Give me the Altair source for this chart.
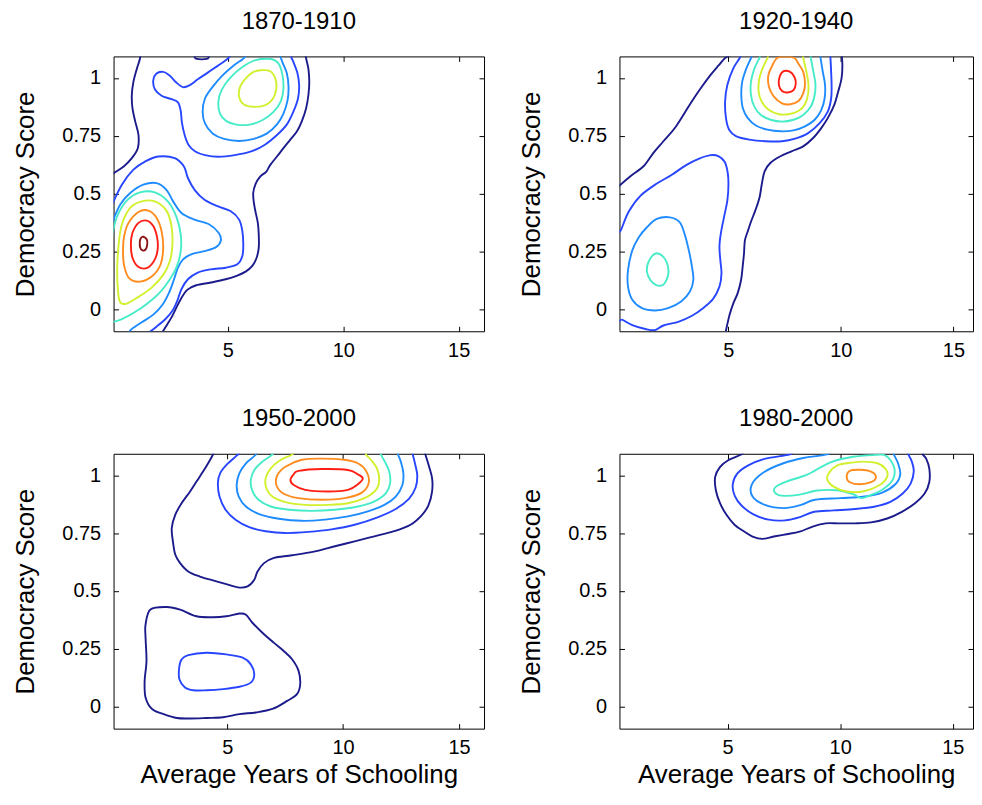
import altair as alt
import pandas as pd

# ---------------- axis ranges and ticks ----------------
Y_DOMAIN = [-0.096, 1.093]
X_DOMAINS = [[0.05, 16.1], [0.17, 15.87], [0.10, 16.08], [0.20, 15.90]]
X_TICKS = [5, 10, 15]
Y_TICKS = [0, 0.25, 0.5, 0.75, 1]
TITLES = ["1870-1910", "1920-1940", "1950-2000", "1980-2000"]
X_TITLE = "Average Years of Schooling"
Y_TITLE = "Democracy Score"

# ---------------- panel 1 : 1870-1910 (contour paths) ----------------
p1_navy_left_x = [1.20, 1.20, 1.06, 0.91, 0.84, 0.87, 0.99, 1.13, 1.10, 0.84, 0.49, 0.13, -0.09]
p1_navy_left_y = [1.12, 1.086, 1.040, 0.983, 0.925, 0.868, 0.811, 0.753, 0.696, 0.653, 0.617, 0.593, 0.578]
p1_navy_right_x = [8.35, 8.39, 8.49, 8.53, 8.49, 8.39, 8.20, 7.99, 7.70, 7.41, 7.13, 6.84, 6.67, 6.41, 6.20, 6.10, 6.13,
                   6.21, 6.30, 6.34, 6.34, 6.24, 6.06, 5.77, 5.41, 4.91, 4.27, 3.63, 3.24, 2.96, 2.74, 2.56, 2.34, 2.13]
p1_navy_right_y = [1.12, 1.086, 1.040, 0.983, 0.925, 0.868, 0.811, 0.768, 0.732, 0.696, 0.660, 0.624, 0.595, 0.574, 0.541,
                   0.502, 0.459, 0.416, 0.373, 0.323, 0.265, 0.220, 0.187, 0.162, 0.145, 0.129, 0.115, 0.103, 0.083, 0.043,
                   0.0, -0.036, -0.072, -0.105]
p1_navy_top_x = [3.60, 3.66, 4.08, 4.14]
p1_navy_top_y = [1.095, 1.082, 1.082, 1.095]
p1_blue_top_x = [5.2, 5.10, 4.91, 4.56, 4.13, 3.70, 3.34, 3.06, 2.77, 2.49, 2.20, 1.91, 1.77, 1.84, 2.13, 2.56, 2.84, 2.96,
                 3.01, 3.13, 3.30, 3.59, 4.01, 4.59, 5.30, 6.01, 6.59, 7.13, 7.56, 7.84, 8.04, 8.09, 8.01, 7.84, 7.73, 7.70]
p1_blue_top_y = [1.12, 1.095, 1.076, 1.052, 1.023, 0.994, 0.968, 0.960, 0.980, 1.009, 1.026, 1.019, 0.990, 0.951, 0.923,
                 0.908, 0.894, 0.857, 0.808, 0.753, 0.710, 0.682, 0.666, 0.659, 0.666, 0.682, 0.710, 0.753, 0.799, 0.854,
                 0.911, 0.968, 1.023, 1.069, 1.095, 1.12]
p1_dodger_top_x = [5.85, 5.77, 5.63, 5.27, 4.77, 4.34, 4.01, 3.91, 4.01, 4.34, 4.84, 5.49, 6.13, 6.70, 7.13, 7.41, 7.59,
                   7.63, 7.56, 7.39, 7.27, 7.22]
p1_dodger_top_y = [1.12, 1.095, 1.080, 1.055, 1.011, 0.961, 0.911, 0.854, 0.803, 0.760, 0.736, 0.727, 0.736, 0.760, 0.799,
                   0.846, 0.904, 0.961, 1.019, 1.062, 1.095, 1.12]
p1_cyan_top_x = [6.77, 6.20, 5.63, 5.10, 4.73, 4.59, 4.66, 4.94, 5.37, 5.94, 6.51, 6.99, 7.30, 7.41, 7.37, 7.24, 7.06]
p1_cyan_top_y = [1.083, 1.077, 1.047, 1.000, 0.947, 0.897, 0.846, 0.813, 0.798, 0.798, 0.818, 0.854, 0.900, 0.954, 1.011,
                 1.055, 1.075]
p1_ygreen_top_x = [6.41, 6.84, 7.06, 7.10, 6.96, 6.63, 6.13, 5.70, 5.49, 5.53, 5.77, 6.06]
p1_ygreen_top_y = [1.033, 1.029, 0.997, 0.954, 0.911, 0.882, 0.875, 0.885, 0.918, 0.961, 0.997, 1.023]
p1_blue_low_x = [-0.01, 0.41, 0.91, 1.41, 1.99, 2.70, 3.10, 3.27, 3.56, 3.99, 4.56, 5.13, 5.49, 5.63, 5.67, 5.63, 5.41,
                 4.91, 4.27, 3.70, 3.27, 2.99, 2.81, 2.60, 2.30, 1.91, 1.53]
p1_blue_low_y = [0.452, 0.538, 0.603, 0.638, 0.660, 0.653, 0.617, 0.567, 0.516, 0.473, 0.445, 0.423, 0.387, 0.337, 0.280,
                 0.230, 0.194, 0.179, 0.172, 0.158, 0.129, 0.086, 0.036, -0.007, -0.043, -0.076, -0.105]
p1_dodger_low_x = [-0.01, 0.34, 0.77, 1.34, 1.91, 2.34, 2.63, 2.99, 3.56, 4.20, 4.60, 4.70, 4.49, 3.99, 3.41, 3.06, 2.84,
                   2.67, 2.46, 2.17, 1.77, 1.27, 0.84, 0.67]
p1_dodger_low_y = [0.373, 0.452, 0.502, 0.538, 0.545, 0.516, 0.466, 0.416, 0.387, 0.366, 0.330, 0.297, 0.268, 0.251, 0.237,
                   0.215, 0.179, 0.129, 0.072, 0.019, -0.024, -0.057, -0.086, -0.108]
p1_cyan_low_x = [-0.01, 0.20, 0.63, 1.20, 1.84, 2.41, 2.77, 2.96, 2.96, 2.80, 2.49, 2.06, 1.49, 0.91, 0.41, -0.01]
p1_cyan_low_y = [0.316, 0.400, 0.470, 0.505, 0.505, 0.465, 0.400, 0.323, 0.251, 0.187, 0.129, 0.072, 0.022, -0.017, -0.043,
                 -0.057]
p1_ygreen_low_x = [0.41, 0.77, 1.27, 1.84, 2.34, 2.56, 2.60, 2.49, 2.20, 1.70, 1.13, 0.63, 0.34, 0.24, 0.21, 0.27]
p1_ygreen_low_y = [0.366, 0.438, 0.466, 0.466, 0.426, 0.359, 0.280, 0.208, 0.148, 0.093, 0.053, 0.024, 0.029, 0.079, 0.179,
                   0.280]
p1_orange_x = [0.70, 1.13, 1.56, 1.91, 2.13, 2.20, 2.09, 1.73, 1.20, 0.73, 0.51, 0.46, 0.51]
p1_orange_y = [0.373, 0.420, 0.426, 0.395, 0.337, 0.265, 0.194, 0.143, 0.119, 0.133, 0.187, 0.251, 0.316]
p1_red_x = [1.13, 1.49, 1.77, 1.94, 1.96, 1.84, 1.53, 1.13, 0.87, 0.80, 0.87]
p1_red_y = [0.373, 0.383, 0.359, 0.308, 0.258, 0.215, 0.179, 0.182, 0.222, 0.280, 0.330]
p1_darkred_x = [1.34, 1.49, 1.51, 1.44, 1.30, 1.20, 1.19, 1.24]
p1_darkred_y = [0.313, 0.301, 0.280, 0.258, 0.254, 0.268, 0.294, 0.308]

# ---------------- panel 2 : 1920-1940 ----------------
p2_navy_left_x = [0.00, 0.16, 0.67, 1.25, 1.68, 2.12, 2.68, 3.33, 3.77, 4.20, 4.57, 4.86, 5.07]
p2_navy_left_y = [0.516, 0.533, 0.576, 0.619, 0.676, 0.726, 0.790, 0.890, 0.954, 1.011, 1.054, 1.086, 1.097]
p2_navy_right_x = [10.03, 10.07, 10.03, 9.88, 9.71, 9.42, 9.13, 8.77, 8.33, 7.83, 7.32, 6.88, 6.62, 6.49, 6.39, 6.20, 6.03,
                   5.88, 5.74, 5.70, 5.64, 5.57, 5.42, 5.23, 5.06, 4.94, 4.88]
p2_navy_right_y = [1.11, 1.054, 0.997, 0.940, 0.883, 0.826, 0.783, 0.740, 0.704, 0.683, 0.661, 0.633, 0.597, 0.540, 0.483,
                   0.426, 0.383, 0.340, 0.297, 0.240, 0.183, 0.126, 0.069, 0.026, -0.024, -0.074, -0.103]
p2_blue_top_x = [5.60, 5.51, 5.22, 4.96, 4.86, 4.90, 5.04, 5.36, 5.94, 6.67, 7.39, 7.97, 8.55, 9.06, 9.42, 9.57, 9.59, 9.57,
                 9.54, 9.52]
p2_blue_top_y = [1.11, 1.086, 1.040, 0.969, 0.897, 0.826, 0.776, 0.747, 0.733, 0.726, 0.726, 0.737, 0.761, 0.804, 0.854,
                 0.911, 0.969, 1.026, 1.086, 1.11]
p2_cyan_top_x = [6.10, 6.01, 5.80, 5.62, 5.58, 5.65, 5.87, 6.23, 6.74, 7.32, 7.90, 8.41, 8.84, 9.13, 9.28, 9.30, 9.20, 9.10,
                 9.07]
p2_cyan_top_y = [1.11, 1.086, 1.040, 0.983, 0.926, 0.869, 0.826, 0.794, 0.776, 0.769, 0.773, 0.790, 0.819, 0.861, 0.911,
                 0.969, 1.026, 1.086, 1.11]
p2_green_top_x = [6.45, 6.38, 6.16, 6.01, 6.01, 6.16, 6.45, 6.88, 7.39, 7.90, 8.33, 8.67, 8.84, 8.87, 8.77, 8.67, 8.64]
p2_green_top_y = [1.11, 1.086, 1.040, 0.983, 0.926, 0.876, 0.840, 0.819, 0.811, 0.819, 0.840, 0.876, 0.926, 0.976, 1.033,
                  1.086, 1.11]
p2_orange_top_x = [6.80, 6.74, 6.55, 6.38, 6.35, 6.49, 6.81, 7.25, 7.68, 8.12, 8.41, 8.55, 8.55, 8.44, 8.33, 8.30]
p2_orange_top_y = [1.11, 1.086, 1.047, 0.997, 0.940, 0.897, 0.861, 0.843, 0.843, 0.857, 0.886, 0.933, 0.983, 1.040, 1.086,
                   1.11]
p2_red_x = [7.17, 6.96, 6.78, 6.81, 7.03, 7.39, 7.75, 8.12, 8.33, 8.41, 8.33, 8.12, 7.94, 7.55]
p2_red_y = [1.086, 1.054, 1.011, 0.961, 0.919, 0.890, 0.886, 0.900, 0.933, 0.976, 1.026, 1.061, 1.086, 1.092]
p2_darkred_x = [7.46, 7.75, 7.94, 8.00, 7.90, 7.65, 7.39, 7.25, 7.28]
p2_darkred_y = [1.029, 1.026, 1.004, 0.976, 0.947, 0.937, 0.943, 0.969, 1.004]
p2_blue_low_x = [0.01, 0.26, 0.59, 1.10, 1.83, 2.48, 3.13, 3.71, 4.22, 4.58, 4.84, 4.97, 5.01, 4.96, 4.81, 4.67, 4.61, 4.65,
                 4.70, 4.61, 4.32, 3.88, 3.39, 2.81, 2.12, 1.75, 1.32, 0.74, 0.30, 0.01]
p2_blue_low_y = [0.283, 0.347, 0.423, 0.490, 0.543, 0.580, 0.623, 0.651, 0.666, 0.661, 0.637, 0.594, 0.540, 0.469, 0.397,
                 0.326, 0.269, 0.211, 0.154, 0.097, 0.043, 0.004, -0.029, -0.054, -0.071, -0.091, -0.086, -0.069, -0.046,
                 -0.029]
p2_cyan_low_x = [1.39, 1.83, 2.41, 2.84, 3.06, 3.25, 3.39, 3.45, 3.30, 2.91, 2.33, 1.75, 1.17, 0.74, 0.55, 0.55, 0.74, 1.03]
p2_cyan_low_y = [0.354, 0.390, 0.397, 0.376, 0.326, 0.254, 0.183, 0.126, 0.076, 0.033, 0.004, -0.006, 0.004, 0.040, 0.097,
                 0.169, 0.254, 0.311]
p2_green_low_x = [1.75, 2.04, 2.26, 2.35, 2.26, 2.09, 1.80, 1.54, 1.39, 1.46]
p2_green_low_y = [0.240, 0.233, 0.204, 0.161, 0.126, 0.104, 0.104, 0.126, 0.161, 0.204]

# ---------------- panel 3 : 1950-2000 ----------------
p3_navy_up_x = [4.46, 4.39, 4.18, 3.96, 3.68, 3.40, 3.04, 2.76, 2.61, 2.66, 2.76, 2.97, 3.32, 3.82, 4.39, 4.96, 5.46, 5.88,
                6.17, 6.31, 6.59, 7.02, 7.80, 8.79, 9.65, 10.50, 11.35, 12.20, 12.91, 13.41, 13.69, 13.84, 13.84, 13.69,
                13.55, 13.51]
p3_navy_up_y = [1.108, 1.090, 1.052, 1.016, 0.973, 0.930, 0.880, 0.829, 0.772, 0.714, 0.657, 0.620, 0.584, 0.562, 0.545,
                0.529, 0.515, 0.519, 0.548, 0.584, 0.620, 0.643, 0.654, 0.671, 0.693, 0.714, 0.736, 0.758, 0.786, 0.829,
                0.872, 0.930, 0.987, 1.044, 1.090, 1.108]
p3_blue_up_x = [5.65, 5.55, 5.41, 4.99, 4.70, 4.60, 4.67, 4.93, 5.36, 5.95, 6.66, 7.51, 8.51, 9.50, 10.50, 11.49, 12.27,
                12.84, 13.13, 13.20, 13.10, 12.98, 12.93]
p3_blue_up_y = [1.12, 1.099, 1.085, 1.047, 1.009, 0.966, 0.908, 0.851, 0.808, 0.776, 0.758, 0.750, 0.755, 0.766, 0.786,
                0.818, 0.854, 0.898, 0.947, 0.999, 1.052, 1.099, 1.12]
p3_cyan_up_x = [6.35, 6.24, 5.81, 5.53, 5.41, 5.50, 5.81, 6.38, 7.23, 8.22, 9.22, 10.21, 11.07, 11.78, 12.27, 12.56, 12.60,
                12.49, 12.37, 12.30]
p3_cyan_up_y = [1.12, 1.090, 1.052, 1.009, 0.958, 0.908, 0.865, 0.832, 0.812, 0.803, 0.808, 0.822, 0.844, 0.872, 0.908,
                0.958, 1.009, 1.059, 1.090, 1.12]
p3_green_up_x = [7.10, 6.95, 6.52, 6.17, 6.02, 6.07, 6.35, 6.88, 7.66, 8.65, 9.65, 10.64, 11.35, 11.85, 12.03, 11.99, 11.80,
                 11.63, 11.55]
p3_green_up_y = [1.12, 1.090, 1.059, 1.023, 0.980, 0.937, 0.894, 0.865, 0.851, 0.846, 0.851, 0.865, 0.887, 0.923, 0.966,
                 1.016, 1.059, 1.090, 1.12]
p3_orange_up_x = [8.00, 7.80, 7.30, 6.88, 6.66, 6.69, 6.95, 7.51, 8.37, 9.36, 10.21, 10.92, 11.42, 11.56, 11.46, 11.21,
                  10.99, 10.90]
p3_orange_up_y = [1.12, 1.090, 1.066, 1.030, 0.987, 0.944, 0.908, 0.884, 0.872, 0.872, 0.879, 0.901, 0.937, 0.980, 1.030,
                  1.066, 1.090, 1.12]
p3_red_x = [8.22, 9.08, 10.07, 10.67, 11.01, 11.11, 10.81, 10.07, 9.08, 8.08, 7.44, 7.13, 7.16, 7.51]
p3_red_y = [1.067, 1.072, 1.067, 1.050, 1.016, 0.968, 0.925, 0.901, 0.894, 0.901, 0.920, 0.956, 0.999, 1.037]
p3_darkred_x = [8.08, 9.08, 10.21, 10.64, 10.85, 10.64, 10.21, 9.36, 8.37, 7.87, 7.73, 7.87]
p3_darkred_y = [1.019, 1.027, 1.023, 1.004, 0.987, 0.961, 0.937, 0.930, 0.937, 0.958, 0.980, 1.004]
p3_navy_low_x = [1.69, 2.40, 2.97, 3.68, 4.39, 4.96, 5.53, 5.81, 6.09, 6.52, 7.02, 7.44, 7.80, 8.08, 8.15, 8.01, 7.59, 6.95,
                 6.24, 5.53, 4.82, 4.11, 3.40, 2.83, 2.26, 1.76, 1.48, 1.44, 1.52, 1.48, 1.48]
p3_navy_low_y = [0.419, 0.430, 0.419, 0.390, 0.386, 0.390, 0.402, 0.397, 0.362, 0.319, 0.275, 0.240, 0.204, 0.154, 0.096,
                 0.053, 0.024, -0.011, -0.026, -0.033, -0.047, -0.050, -0.052, -0.050, -0.033, -0.011, 0.039, 0.110, 0.197,
                 0.297, 0.354]
p3_blue_low_x = [3.32, 4.11, 4.96, 5.67, 6.02, 6.17, 6.02, 5.53, 4.82, 4.11, 3.54, 3.18, 2.94, 2.93, 3.04]
p3_blue_low_y = [0.222, 0.232, 0.225, 0.211, 0.182, 0.139, 0.103, 0.085, 0.075, 0.070, 0.070, 0.082, 0.118, 0.168, 0.204]

# ---------------- panel 4 : 1980-2000 ----------------
p4_navy_x = [5.80, 5.61, 5.03, 4.67, 4.45, 4.48, 4.67, 4.96, 5.32, 5.75, 6.11, 6.54, 7.05, 7.62, 8.20, 8.78, 9.35, 9.93,
             10.65, 11.37, 12.09, 12.74, 13.31, 13.75, 13.96, 13.96, 13.82, 13.67, 13.62]
p4_navy_y = [1.11, 1.090, 1.065, 1.036, 0.993, 0.935, 0.878, 0.828, 0.785, 0.756, 0.735, 0.725, 0.735, 0.745, 0.756, 0.778,
             0.792, 0.792, 0.792, 0.796, 0.813, 0.842, 0.878, 0.921, 0.971, 1.029, 1.072, 1.090, 1.11]
p4_blue_x = [7.90, 7.77, 6.69, 5.92, 5.43, 5.23, 5.32, 5.63, 6.15, 6.83, 7.55, 8.27, 8.85, 9.71, 10.65, 11.51, 12.23, 12.78,
             13.13, 13.27, 13.18, 13.03, 12.98]
p4_blue_y = [1.11, 1.090, 1.072, 1.043, 1.007, 0.960, 0.911, 0.868, 0.831, 0.808, 0.805, 0.821, 0.842, 0.848, 0.854, 0.864,
             0.885, 0.921, 0.964, 1.017, 1.060, 1.090, 1.11]
p4_cyan_x = [9.60, 9.42, 8.42, 7.48, 6.61, 6.08, 6.11, 6.66, 7.52, 8.27, 8.88, 10.00, 11.01, 11.87, 12.45, 12.67, 12.57,
             12.38, 12.30]
p4_cyan_y = [1.11, 1.090, 1.076, 1.052, 1.013, 0.961, 0.908, 0.872, 0.858, 0.872, 0.894, 0.901, 0.907, 0.925, 0.961, 1.004,
             1.052, 1.090, 1.11]
p4_yellow_x = [11.59, 10.58, 9.57, 8.56, 7.62, 7.15, 7.09, 7.41, 8.13, 8.99, 9.86, 10.58, 10.94, 11.37, 11.87, 12.31, 12.42,
               12.23, 11.95]
p4_yellow_y = [1.088, 1.080, 1.056, 1.004, 0.973, 0.951, 0.927, 0.912, 0.915, 0.934, 0.935, 0.918, 0.901, 0.915, 0.937,
               0.976, 1.023, 1.066, 1.088]
p4_orange_x = [10.29, 11.01, 11.66, 12.02, 12.09, 11.76, 11.01, 10.29, 9.71, 9.42, 9.57, 9.86]
p4_orange_y = [1.052, 1.059, 1.052, 1.027, 0.994, 0.958, 0.930, 0.930, 0.951, 0.984, 1.019, 1.042]
p4_darkred_x = [10.43, 10.87, 11.37, 11.59, 11.37, 10.87, 10.43, 10.29]
p4_darkred_y = [1.019, 1.024, 1.016, 0.993, 0.970, 0.961, 0.970, 0.993]

# contour membership: (id, contour level, closed loop?, xs, ys)
PANEL_CURVES = [
    [("navy_left", 1, False, p1_navy_left_x, p1_navy_left_y),
     ("navy_right", 1, False, p1_navy_right_x, p1_navy_right_y),
     ("navy_top", 1, True, p1_navy_top_x, p1_navy_top_y),
     ("blue_top", 2, False, p1_blue_top_x, p1_blue_top_y),
     ("dodger_top", 3, False, p1_dodger_top_x, p1_dodger_top_y),
     ("cyan_top", 4, True, p1_cyan_top_x, p1_cyan_top_y),
     ("ygreen_top", 5, True, p1_ygreen_top_x, p1_ygreen_top_y),
     ("blue_low", 2, False, p1_blue_low_x, p1_blue_low_y),
     ("dodger_low", 3, False, p1_dodger_low_x, p1_dodger_low_y),
     ("cyan_low", 4, False, p1_cyan_low_x, p1_cyan_low_y),
     ("ygreen_low", 5, True, p1_ygreen_low_x, p1_ygreen_low_y),
     ("orange", 6, True, p1_orange_x, p1_orange_y),
     ("red", 7, True, p1_red_x, p1_red_y),
     ("darkred", 8, True, p1_darkred_x, p1_darkred_y)],
    [("navy_left", 1, False, p2_navy_left_x, p2_navy_left_y),
     ("navy_right", 1, False, p2_navy_right_x, p2_navy_right_y),
     ("blue_top", 2, False, p2_blue_top_x, p2_blue_top_y),
     ("cyan_top", 3, False, p2_cyan_top_x, p2_cyan_top_y),
     ("green_top", 4, False, p2_green_top_x, p2_green_top_y),
     ("orange_top", 5, False, p2_orange_top_x, p2_orange_top_y),
     ("red", 6, True, p2_red_x, p2_red_y),
     ("darkred", 7, True, p2_darkred_x, p2_darkred_y),
     ("blue_low", 2, True, p2_blue_low_x, p2_blue_low_y),
     ("cyan_low", 3, True, p2_cyan_low_x, p2_cyan_low_y),
     ("green_low", 4, True, p2_green_low_x, p2_green_low_y)],
    [("navy_up", 1, False, p3_navy_up_x, p3_navy_up_y),
     ("blue_up", 2, False, p3_blue_up_x, p3_blue_up_y),
     ("cyan_up", 3, False, p3_cyan_up_x, p3_cyan_up_y),
     ("green_up", 4, False, p3_green_up_x, p3_green_up_y),
     ("orange_up", 5, False, p3_orange_up_x, p3_orange_up_y),
     ("red", 6, True, p3_red_x, p3_red_y),
     ("darkred", 7, True, p3_darkred_x, p3_darkred_y),
     ("navy_low", 1, True, p3_navy_low_x, p3_navy_low_y),
     ("blue_low", 2, True, p3_blue_low_x, p3_blue_low_y)],
    [("navy", 1, False, p4_navy_x, p4_navy_y),
     ("blue", 2, False, p4_blue_x, p4_blue_y),
     ("cyan", 3, False, p4_cyan_x, p4_cyan_y),
     ("yellow", 4, True, p4_yellow_x, p4_yellow_y),
     ("orange", 5, True, p4_orange_x, p4_orange_y),
     ("darkred", 6, True, p4_darkred_x, p4_darkred_y)],
]

# ---------------- styling ----------------
LEVEL_COLORS = [
    ["#1b1b8c", "#2846ff", "#1e8cff", "#46ebc8", "#d2f02d", "#ff8c1e", "#ff1e14", "#8c1414"],
    ["#1b1b8c", "#1e50ff", "#1ed2ff", "#82ff82", "#ffc31e", "#ff2814", "#8c1414"],
    ["#1b1b8c", "#1e50ff", "#14c8ff", "#82ff82", "#ffbe14", "#ff2814", "#8c1414"],
    ["#1b1b8c", "#1e6eff", "#2df0e6", "#f5ef14", "#ff5014", "#8c1414"],
]
WIDTHS = [372, 355, 372, 355]
HEIGHT = 276
FONT = "Liberation Sans"
LINE_W = 1.9


def make_panel(i, bottom_row):
    rows = []
    for cid, lvl, closed, xs, ys in PANEL_CURVES[i]:
        for k, (x, y) in enumerate(zip(xs, ys)):
            rows.append({"cid": cid, "level": lvl, "closed": closed, "order": k, "x": x, "y": y})
    df = pd.DataFrame(rows)
    colors = LEVEL_COLORS[i]
    xsc = alt.Scale(domain=X_DOMAINS[i], nice=False, zero=False)
    ysc = alt.Scale(domain=Y_DOMAIN, nice=False, zero=False)
    col = alt.Color("level:O", scale=alt.Scale(domain=list(range(1, len(colors) + 1)), range=colors), legend=None)

    x_axis_kw = dict(values=X_TICKS, format="d", orient="bottom", offset=-5, tickSize=5, domain=False,
                     grid=False, labelPadding=9, tickColor="black")
    if bottom_row:
        x_axis_kw.update(title=X_TITLE, titlePadding=4)
    else:
        x_axis_kw.update(title=None)
    x_axis = alt.Axis(**x_axis_kw)
    y_axis = alt.Axis(values=Y_TICKS, format=".2~f", orient="left", offset=-5, tickSize=5, domain=False, grid=False,
                      labelPadding=13, title=Y_TITLE, titlePadding=23, tickColor="black")

    open_lines = alt.Chart(df[~df["closed"]]).mark_line(
        interpolate="cardinal", clip=True, strokeWidth=LINE_W
    ).encode(
        x=alt.X("x:Q", scale=xsc, axis=x_axis),
        y=alt.Y("y:Q", scale=ysc, axis=y_axis),
        color=col, detail="cid:N", order="order:Q",
    )
    closed_lines = alt.Chart(df[df["closed"]]).mark_line(
        interpolate="cardinal-closed", clip=True, strokeWidth=LINE_W
    ).encode(
        x=alt.X("x:Q", scale=xsc, axis=None),
        y=alt.Y("y:Q", scale=ysc, axis=None),
        color=col, detail="cid:N", order="order:Q",
    )
    frame_ticks = alt.Chart(pd.DataFrame({"x": [X_DOMAINS[i][0]], "y": [Y_DOMAIN[0]]})).mark_point(
        opacity=0, clip=True
    ).encode(
        x=alt.X("x:Q", scale=xsc, axis=alt.Axis(values=X_TICKS, orient="top", offset=-5, tickSize=5, labels=False,
                                                domain=False, grid=False, title=None, tickColor="black")),
        y=alt.Y("y:Q", scale=ysc, axis=alt.Axis(values=Y_TICKS, orient="right", offset=-5, tickSize=5, labels=False,
                                                domain=False, grid=False, title=None, tickColor="black")),
    )
    return alt.layer(open_lines, closed_lines, frame_ticks).resolve_axis(
        x="independent", y="independent"
    ).properties(
        width=WIDTHS[i], height=HEIGHT,
        title=alt.TitleParams(TITLES[i], offset=22),
    )


top = alt.hconcat(make_panel(0, False), make_panel(1, False), spacing=33)
bottom = alt.hconcat(make_panel(2, True), make_panel(3, True), spacing=33)

chart = alt.vconcat(top, bottom, spacing=46).properties(
    padding={"left": 4, "top": 0, "right": 0, "bottom": 0}
).configure_view(
    stroke="black", strokeWidth=1
).configure_axis(
    labelFont=FONT, titleFont=FONT, labelFontSize=20, titleFontSize=26, labelColor="black", titleColor="black",
    titleFontWeight="normal", tickWidth=1
).configure_title(
    font=FONT, fontSize=24, fontWeight="normal", color="black", anchor="middle"
)

chart.save("out.html", embed_options={"renderer": "svg", "actions": False})
